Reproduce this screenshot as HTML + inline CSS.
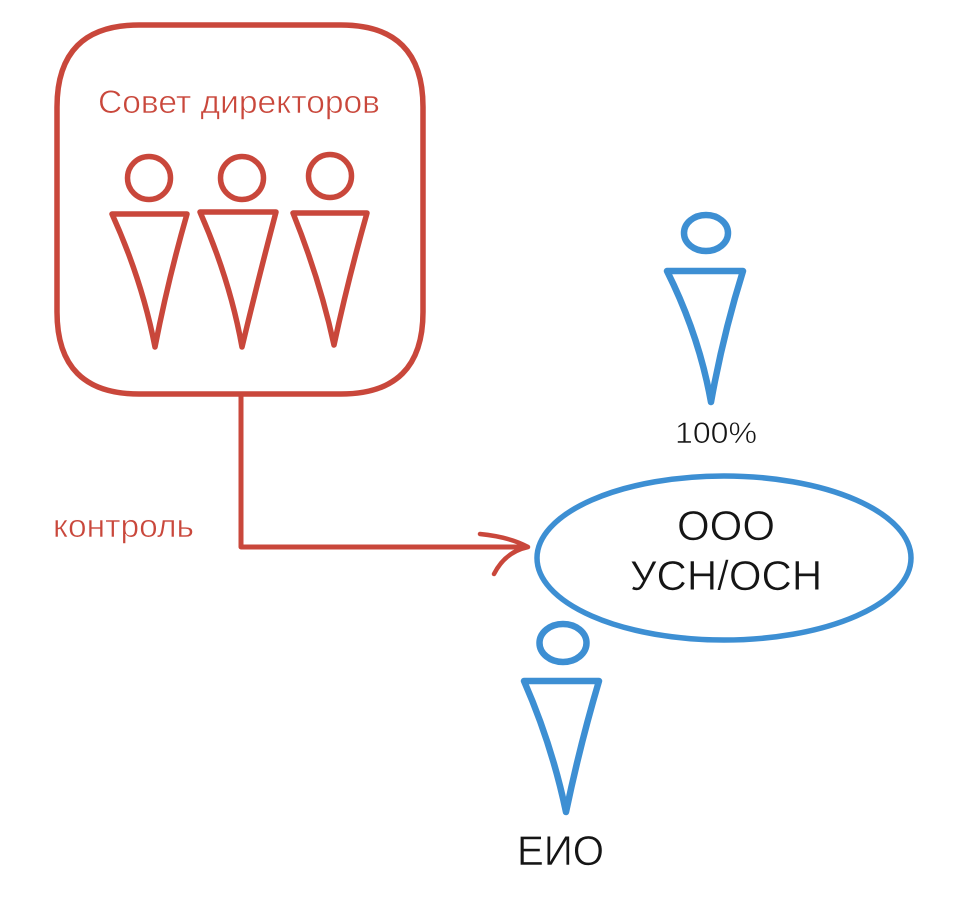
<!DOCTYPE html>
<html>
<head>
<meta charset="utf-8">
<style>
  html, body { margin:0; padding:0; background:#ffffff; }
  body { width:957px; height:899px; overflow:hidden; }
  svg { display:block; }
  .sans { font-family: "Liberation Sans", "DejaVu Sans", sans-serif; }
  .thin { stroke:#ffffff; stroke-width:0.6; paint-order:normal; }
</style>
</head>
<body>
<svg width="957" height="899" viewBox="0 0 957 899" xmlns="http://www.w3.org/2000/svg">
  <rect width="957" height="899" fill="#ffffff"/>

  <!-- Red rounded box -->
  <path d="M139,25 L341,25 Q423,25 423,107 L423,312 Q423,394 341,394 L139,394 Q57,394 57,312 L57,107 Q57,25 139,25 Z"
        fill="none" stroke="#c9473b" stroke-width="5.5"/>

  <text x="98" y="113" class="sans thin" font-size="32.5" fill="#c9473b" textLength="282" lengthAdjust="spacingAndGlyphs">Совет директоров</text>

  <!-- Red figures -->
  <g fill="none" stroke="#c9473b" stroke-width="5.5" stroke-linejoin="round" stroke-linecap="round">
    <circle cx="149" cy="178" r="21.5"/>
    <path d="M112,214 L187,214 Q168,280 155,347 Q142,280 112,214 Z"/>
    <circle cx="242" cy="178" r="21.5"/>
    <path d="M200,212 L276,212 Q258,280 242,347 Q230,280 200,212 Z"/>
    <circle cx="330" cy="176" r="21.5"/>
    <path d="M293,213 L367,213 Q348,280 334,345 Q320,280 293,213 Z"/>
  </g>

  <!-- Connector -->
  <path d="M241,394 L241,547 L526,547" fill="none" stroke="#c9473b" stroke-width="5" stroke-linejoin="round"/>
  <path d="M480,534 Q510,537 528,547 Q505,552 494,574" fill="none" stroke="#c9473b" stroke-width="4.5" stroke-linecap="round" stroke-linejoin="round"/>

  <text x="53" y="537" class="sans thin" font-size="32" fill="#c9473b" textLength="141" lengthAdjust="spacingAndGlyphs">контроль</text>

  <!-- Blue ellipse -->
  <ellipse cx="724" cy="558" rx="187" ry="82" fill="none" stroke="#3d8fd3" stroke-width="5.5"/>
  <text x="726" y="540" class="sans thin" font-size="42" fill="#151515" text-anchor="middle">ООО</text>
  <text x="726" y="590" class="sans thin" font-size="42" fill="#151515" text-anchor="middle">УСН/ОСН</text>

  <!-- Blue figures -->
  <g fill="none" stroke="#3d8fd3" stroke-width="6.5" stroke-linejoin="round" stroke-linecap="round">
    <ellipse cx="706" cy="233" rx="22" ry="18"/>
    <path d="M667,271 L743,271 Q723,335 711,402 Q699,335 667,271 Z"/>
    <ellipse cx="563" cy="643" rx="23.5" ry="19"/>
    <path d="M524,681 L599,681 Q580,745 566,812 Q552,745 524,681 Z"/>
  </g>

  <text x="675" y="443" class="sans thin" font-size="30" fill="#151515" textLength="82" lengthAdjust="spacingAndGlyphs">100%</text>
  <text x="517" y="865" class="sans thin" font-size="42" fill="#151515" textLength="87" lengthAdjust="spacingAndGlyphs">ЕИО</text>
</svg>
</body>
</html>
